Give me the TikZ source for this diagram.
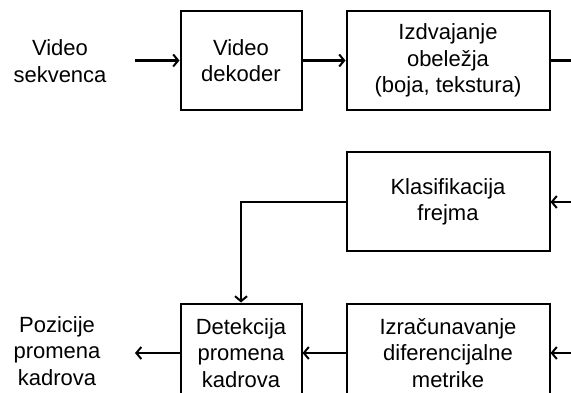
\documentclass[tikz,border=0pt]{standalone}
\usepackage{fontspec}
\setmainfont{Liberation Sans}
\usetikzlibrary{arrows.meta}

\tikzset{
    blok/.style={draw,line width=2pt,align=center,inner sep=0pt,minimum height=99pt},
    tekst/.style={align=center,inner sep=0pt},
    veza/.style={line width=2.2pt,-{Straight Barb[length=5pt,width=12pt,line width=2pt]}},
    linija/.style={line width=2.2pt}
}

\begin{document}
\begin{tikzpicture}[x=1pt,y=-1pt,every node/.append style={font=\fontsize{22}{26.5}\selectfont}]
        \useasboundingbox (0,0) rectangle (571,393);
        \clip (0,0) rectangle (571,393);

        \node[tekst] (ulaz) at (60,61){Video\\sekvenca};
        \node[blok,minimum width=121pt] (dekoder) at (241,60.5){Video\\dekoder};
        \node[blok,minimum width=203pt] (obelezja) at (448,60.5){Izdvajanje\\obeležja\\(boja, tekstura)};

        \node[blok,minimum width=203pt] (klasif) at (448,202){Klasifikacija\\frejma};

        \node[blok,minimum width=121pt] (detekcija) at (241,353){Detekcija\\promena\\kadrova};
        \node[blok,minimum width=203pt] (metrika) at (448,353){Izračunavanje\\diferencijalne\\metrike};
        \node[tekst] (izlaz) at (57,351){Pozicije\\promena\\kadrova};

        \coordinate (ulazkraj) at (135,60.5);
        \coordinate (izlazkraj) at (135,353);
        \coordinate (desno1) at (575,60.5);
        \coordinate (desno2) at (575,202);
        \coordinate (desno3) at (575,353);

        \draw[veza] (ulazkraj) -- (dekoder.west);
        \draw[veza] (dekoder) -- (obelezja);
        \draw[linija] (obelezja.east) -- (desno1);

        \draw[veza] (desno2) -- (klasif.east);
        \draw[veza] (klasif.west) -| (detekcija.north);

        \draw[veza] (desno3) -- (metrika.east);
        \draw[veza] (metrika) -- (detekcija);
        \draw[veza] (detekcija.west) -- (izlazkraj);
    \end{tikzpicture}
\end{document}
